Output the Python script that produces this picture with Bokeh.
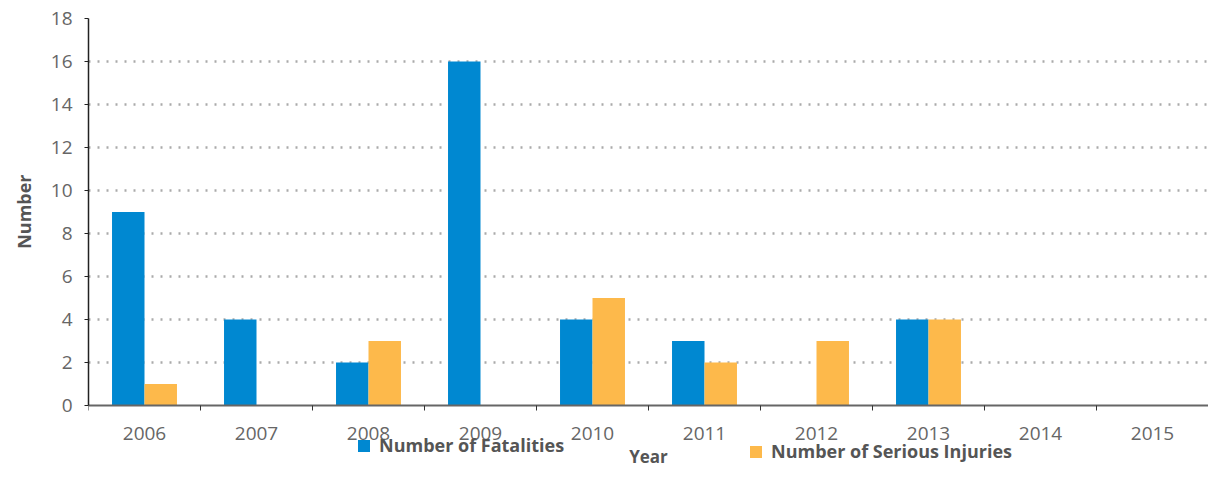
from bokeh.plotting import figure
from bokeh.models import ColumnDataSource, FixedTicker, Range1d, Legend, LegendItem, Title
from bokeh.transform import dodge
from bokeh.embed import file_html
from bokeh.resources import INLINE

years = [2006, 2007, 2008, 2009, 2010, 2011, 2012, 2013, 2014, 2015]
fatalities = [9, 4, 2, 16, 4, 3, 0, 4, 0, 0]
serious_injuries = [1, 0, 3, 0, 5, 2, 3, 4, 0, 0]
y_ticks = [0, 2, 4, 6, 8, 10, 12, 14, 16, 18]

src = ColumnDataSource(dict(year=years, fat=fatalities, inj=serious_injuries))

BLUE = "#0088D1"
ORANGE = "#FDB94B"
FONT = "Open Sans"

# frame extends below zero so the legend can sit inside it (below the x axis)
p = figure(width=1208, height=488, output_backend="svg", toolbar_location=None,
           x_range=Range1d(years[0] - 0.5, years[-1] + 0.5), y_range=Range1d(-3.86, 18),
           min_border_left=88, min_border_top=18, min_border_bottom=0, min_border_right=0)
p.outline_line_color = None

r1 = p.vbar(x=dodge('year', -0.145, range=p.x_range), top='fat', width=0.29, source=src,
            fill_color=BLUE, line_color=None)
r2 = p.vbar(x=dodge('year', 0.145, range=p.x_range), top='inj', width=0.29, source=src,
            fill_color=ORANGE, line_color=None)

# x axis (drawn at y = 0)
p.xaxis.fixed_location = 0
p.xaxis.ticker = FixedTicker(ticks=years, minor_ticks=[y - 0.5 for y in years] + [years[-1] + 0.5])
p.xaxis.major_tick_line_color = None
p.xaxis.major_tick_in = 0
p.xaxis.major_tick_out = 0
p.xaxis.minor_tick_line_color = "#333333"
p.xaxis.minor_tick_in = 0
p.xaxis.minor_tick_out = 5
p.xaxis.axis_line_color = "#666666"
p.xaxis.axis_line_width = 2
p.xaxis.major_label_text_font = FONT
p.xaxis.major_label_text_font_size = "19px"
p.xaxis.major_label_text_color = "#666666"
p.xaxis.major_label_standoff = 16
p.xaxis.axis_label = "Year"
p.xaxis.axis_label_text_font = FONT
p.xaxis.axis_label_text_font_style = "bold"
p.xaxis.axis_label_text_font_size = "17px"
p.xaxis.axis_label_text_color = "#555555"
p.xaxis.axis_label_standoff = 2

# y axis
p.yaxis.bounds = (0, 18)
p.yaxis.ticker = FixedTicker(ticks=y_ticks, minor_ticks=[])
p.yaxis.axis_line_color = "#222222"
p.yaxis.axis_line_width = 1.5
p.yaxis.major_tick_line_color = "#222222"
p.yaxis.major_tick_in = 0
p.yaxis.major_tick_out = 4
p.yaxis.major_label_text_font = FONT
p.yaxis.major_label_text_font_size = "19px"
p.yaxis.major_label_text_color = "#666666"
p.yaxis.major_label_standoff = 12

# y axis title, placed alongside the 0..18 part of the axis
ytitle = Title(text="Number", align="right", offset=156, standoff=20, vertical_align="top",
               text_font=FONT, text_font_style="bold", text_font_size="18px",
               text_color="#555555")
p.add_layout(ytitle, "left")

p.xgrid.grid_line_color = None
p.ygrid.ticker = FixedTicker(ticks=y_ticks[1:])
p.ygrid.grid_line_color = "#aaaaaa"
p.ygrid.grid_line_width = 2.5
p.ygrid.grid_line_dash = "2 7"

def make_legend(label, renderer, loc):
    lg = Legend(items=[LegendItem(label=label, renderers=[renderer])], location=loc,
                orientation="horizontal", padding=0, margin=0, spacing=0,
                glyph_width=15, glyph_height=15, label_height=15, label_standoff=8,
                label_text_font=FONT, label_text_font_style="bold",
                label_text_font_size="18px", label_text_color="#555555",
                border_line_color=None, background_fill_alpha=0)
    p.add_layout(lg, "center")

make_legend("Number of Fatalities", r1, (268, 31))
make_legend("Number of Serious Injuries", r2, (660, 25))

open("out.html", "w").write(file_html(p, INLINE))
